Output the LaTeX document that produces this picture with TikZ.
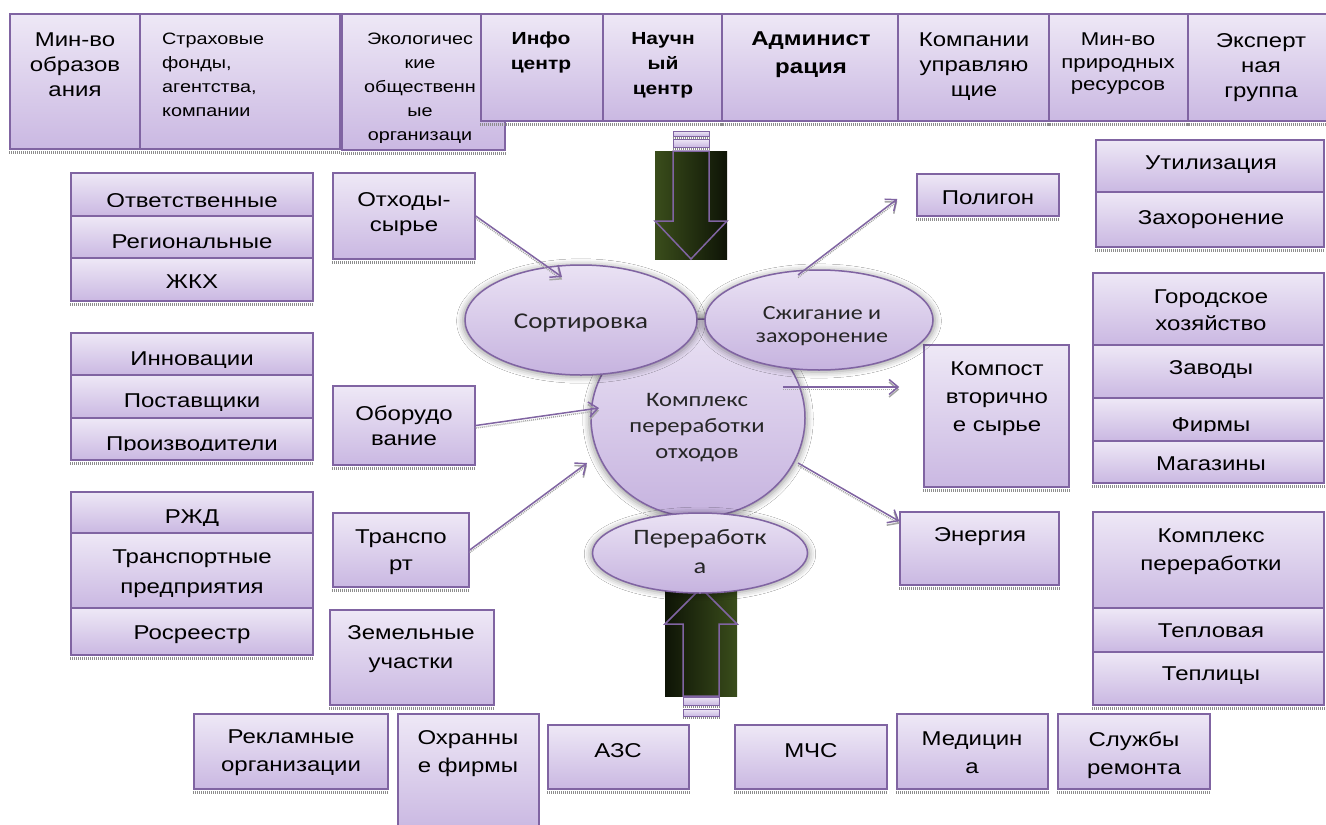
\documentclass[tikz,border=0pt]{standalone}
\usepackage{fontspec}
\setmainfont{Liberation Sans}[FakeStretch=1.2]
\newfontfamily\calib{Carlito}[FakeStretch=1.2]
\usetikzlibrary{fit,shapes.geometric,arrows.meta,calc,shadows.blur}

\definecolor{pb}{HTML}{8064A2}
\definecolor{btop}{HTML}{EEE8F6}
\definecolor{bbot}{HTML}{CAB8E2}
\definecolor{etop}{HTML}{EAE2F4}
\definecolor{ebot}{HTML}{C6B3DF}
\definecolor{grn}{HTML}{3A4D1B}
\definecolor{drk}{HTML}{0E1406}
\definecolor{etx}{HTML}{262626}

\newcommand\fsz[2]{\fontsize{#1}{#2}\selectfont}
% name, x1, y1, x2, y2, text options, text
\newcommand\cbox[8][8]{%
  \node[box, fit={(#3,#4)(#5,#6)}] (#2) {};
  \begin{scope}
    \clip (#3,#4) rectangle (#5,{#6-#1});
    \node[txt, #7] (#2-t) {#8};
  \end{scope}}

\tikzset{
  box/.style={draw=pb, line width=1.5pt, top color=btop, bottom color=bbot, inner sep=0pt, rectangle},
  txt/.style={inner sep=0pt, anchor=north, align=center, text=black, font=\fsz{20}{25}},
  shd/.style={draw=black!45, line width=2.5pt, dash pattern=on 1pt off 1pt},
  ell/.style={draw=pb, line width=1.5pt, top color=etop, bottom color=ebot, inner sep=0pt,
    blur shadow={shadow xshift=0pt, shadow yshift=-1pt, shadow blur radius=6pt, shadow scale=1.02, shadow opacity=40}},
  etxt/.style={inner sep=0pt, anchor=north, align=center, text=etx},
  bigarr/.style={draw=pb, line width=1.5pt},
  conn/.style={draw=pb, line width=1.5pt, -{Straight Barb[length=9pt,width=15pt]},
    preaction={draw=black!35, line width=1.5pt, dash pattern=on 1pt off 1pt, transform canvas={yshift=-2.5pt}}}
}

\begin{document}
\begin{tikzpicture}[x=1pt, y=-1pt]
\fill[white] (0,0) rectangle (1326,825);
\useasboundingbox (0,0) rectangle (1326,825);

% ---- top row
\cbox{minobr}{10}{14}{140}{149}{at={(75,33)}}{Мин-во\\образов\\ания}
\cbox{strah}{140}{14}{340}{149}{at={(162,33)}, anchor=north west, align=left, font=\fsz{16.5}{24}}{Страховые\\фонды,\\агентства,\\компании}
\cbox{eco}{342}{14}{505}{150}{at={(420,33)}, font=\fsz{16.5}{24}}{Экологичес\\кие\\общественн\\ые\\организаци}
\cbox{info}{481}{14}{603}{121}{at={(541,32)}, font=\bfseries\fsz{17.5}{25}}{Инфо\\центр}
\cbox{nauch}{603}{14}{722}{121}{at={(663,32)}, font=\bfseries\fsz{17.5}{25}}{Научн\\ый\\центр}
\cbox{adm}{722}{14}{898}{121}{at={(811,32)}, font=\bfseries\fsz{20}{28}}{Админист\\рация}
\cbox{komp}{898}{14}{1049}{121}{at={(974,33)}, font=\fsz{20}{25}}{Компании\\управляю\\щие}
\cbox{minpr}{1049}{14}{1188}{121}{at={(1118,33)}, font=\fsz{18.5}{22.5}}{Мин-во\\природных\\ресурсов}
\cbox{exp}{1188}{14}{1334}{121}{at={(1261,33)}, font=\fsz{20}{25}}{Эксперт\\ная\\группа}
\foreach \n in {minobr,strah,eco,info,nauch,adm,komp,minpr,exp}
  \draw[shd] ([yshift=-2.5pt]\n.south west) -- ([yshift=-2.5pt]\n.south east);

% ---- left groups
\cbox[10]{otv}{71}{173}{313}{216}{at={(192,193)}}{Ответственные}
\cbox{reg}{71}{216}{313}{258}{at={(192,235)}}{Региональные}
\cbox{zhkh}{71}{258}{313}{301}{at={(192,275)}}{ЖКХ}
\cbox{otx}{333}{173}{475}{259}{at={(404,192)}}{Отходы-\\сырье}
\cbox{innov}{71}{333}{313}{375}{at={(192,352)}}{Инновации}
\cbox{post}{71}{375}{313}{418}{at={(192,394)}}{Поставщики}
\cbox[10]{proizv}{71}{418}{313}{460}{at={(192,437)}}{Производители}
\cbox{obor}{333}{386}{475}{465}{at={(404,406)}}{Оборудо\\вание}
\cbox{rzhd}{71}{492}{313}{533}{at={(192,510)}}{РЖД}
\cbox{transp}{71}{533}{313}{608}{at={(192,550)}, font=\fsz{20}{30}}{Транспортные\\предприятия}
\cbox{rosr}{71}{608}{313}{655}{at={(192,626)}}{Росреестр}
\cbox{trans}{333}{513}{469}{587}{at={(401,530)}, font=\fsz{20}{27}}{Транспо\\рт}
\cbox{zem}{330}{610}{494}{705}{at={(411,625)}, font=\fsz{20}{29}}{Земельные\\участки}

% ---- right groups
\cbox[11]{pol}{917}{174}{1059}{216}{at={(988,191)}}{Полигон}
\cbox{util}{1096}{140}{1324}{192}{at={(1211,156)}}{Утилизация}
\cbox{zah}{1096}{192}{1324}{247}{at={(1211,210)}}{Захоронение}
\cbox{gor}{1093}{273}{1324}{345}{at={(1211,290)}, font=\fsz{20}{27}}{Городское\\хозяйство}
\cbox{zav}{1093}{345}{1324}{398}{at={(1211,360)}}{Заводы}
\cbox[10]{firm}{1093}{398}{1324}{441}{at={(1211,417)}}{Фирмы}
\cbox{mag}{1093}{441}{1324}{483}{at={(1211,457)}}{Магазины}
\cbox{kompost}{924}{345}{1069}{487}{at={(997,362)}, font=\fsz{20}{28}}{Компост\\вторично\\е сырье}
\cbox{en}{900}{512}{1059}{585}{at={(980,527)}}{Энергия}
\cbox{kpr}{1093}{512}{1324}{608}{at={(1211,529)}, font=\fsz{20}{28}}{Комплекс\\переработки}
\cbox{tepl}{1093}{608}{1324}{652}{at={(1211,624)}}{Тепловая}
\cbox{tepc}{1093}{652}{1324}{705}{at={(1211,667)}}{Теплицы}

% ---- bottom row
\cbox{rekl}{194}{714}{388}{789}{at={(291,730)}, font=\fsz{20}{28}}{Рекламные\\организации}
\cbox{ohr}{398}{714}{539}{830}{at={(468,730)}, font=\fsz{20}{28}}{Охранны\\е фирмы}
\cbox{azs}{548}{725}{689}{789}{at={(618,743)}}{АЗС}
\cbox{mchs}{735}{725}{887}{789}{at={(811,743)}}{МЧС}
\cbox{med}{897}{714}{1048}{789}{at={(972,732)}, font=\fsz{20}{28}}{Медицин\\а}
\cbox{sluzh}{1058}{714}{1210}{789}{at={(1134,732)}, font=\fsz{20}{28}}{Службы\\ремонта}

\foreach \n in {zhkh,otx,proizv,obor,rosr,trans,zem,pol,zah,mag,kompost,en,tepc,rekl,azs,mchs,med,sluzh}
  \draw[shd] ([yshift=-2.5pt]\n.south west) -- ([yshift=-2.5pt]\n.south east);

% ---- big block arrows
\node[box, line width=1pt, fit={(673,131)(709,136)}] (tb1) {};
\node[box, line width=1pt, fit={(673,139)(709,147)}] (tb2) {};
\draw[shd, line width=1.5pt] ([yshift=-1.5pt]tb1.south west) -- ([yshift=-1.5pt]tb1.south east);
\draw[shd, line width=1.5pt] ([yshift=-1.5pt]tb2.south west) -- ([yshift=-1.5pt]tb2.south east);
\node[fit={(655,151)(727,259)}, inner sep=0pt, left color=grn, right color=drk] (darr) {};
\draw[bigarr] (673,151) -- (673,221) -- (655,221) -- (691,259) -- (727,221) -- (709,221) -- (709,151) -- cycle;

\node[box, line width=1pt, fit={(683,697)(719,705)}] (bb1) {};
\node[box, line width=1pt, fit={(683,709)(719,716)}] (bb2) {};
\draw[shd, line width=1.5pt] ([yshift=-1.5pt]bb1.south west) -- ([yshift=-1.5pt]bb1.south east);
\draw[shd, line width=1.5pt] ([yshift=-1.5pt]bb2.south west) -- ([yshift=-1.5pt]bb2.south east);
\node[fit={(665,590)(737,696)}, inner sep=0pt, left color=drk, right color=grn] (uarr) {};
\draw[bigarr] (683,696) -- (683,624) -- (665,624) -- (701,588) -- (737,624) -- (719,624) -- (719,696) -- cycle;

% ---- central ellipses
\node[ell, ellipse, minimum width=214pt, minimum height=198pt] (circ) at (698,418) {};
\node[ell, ellipse, minimum width=232pt, minimum height=110pt] (sort) at (581,320) {};
\node[ell, ellipse, minimum width=228pt, minimum height=100pt] (szh) at (819,320) {};
\node[ell, ellipse, minimum width=215pt, minimum height=80pt] (perer) at (700,553) {};

\node[etxt, font=\calib\fsz{22.5}{26}] (sort-t) at (581,314) {Сортировка};
\node[etxt, font=\calib\fsz{20}{23}] (szh-t) at (822,306) {Сжигание и\\захоронение};
\node[etxt, font=\calib\fsz{20.5}{26}] (circ-t) at (697,393) {Комплекс\\переработки\\отходов};
\node[etxt, font=\calib\fsz{22}{29}] (perer-t) at (700,529) {Переработк\\а};

% ---- connectors
\draw[conn] (otx.east) -- ($(sort.center)+(-19,-43)$);
\draw[conn] ($(szh.center)+(-21,-45)$) -- ($(pol.west)+(-19,4)$);
\draw[conn] (obor.east) -- ($(circ.center)+(-99,-10)$);
\draw[conn] (trans.east) -- ($(circ.center)+(-111,45)$);
\draw[conn] ($(circ.center)+(85,-31)$) -- ($(kompost.west)+(-24,-29)$);
\draw[conn] ($(circ.center)+(100,45)$) -- ($(en.north west)+(0,10)$);
\end{tikzpicture}
\end{document}
